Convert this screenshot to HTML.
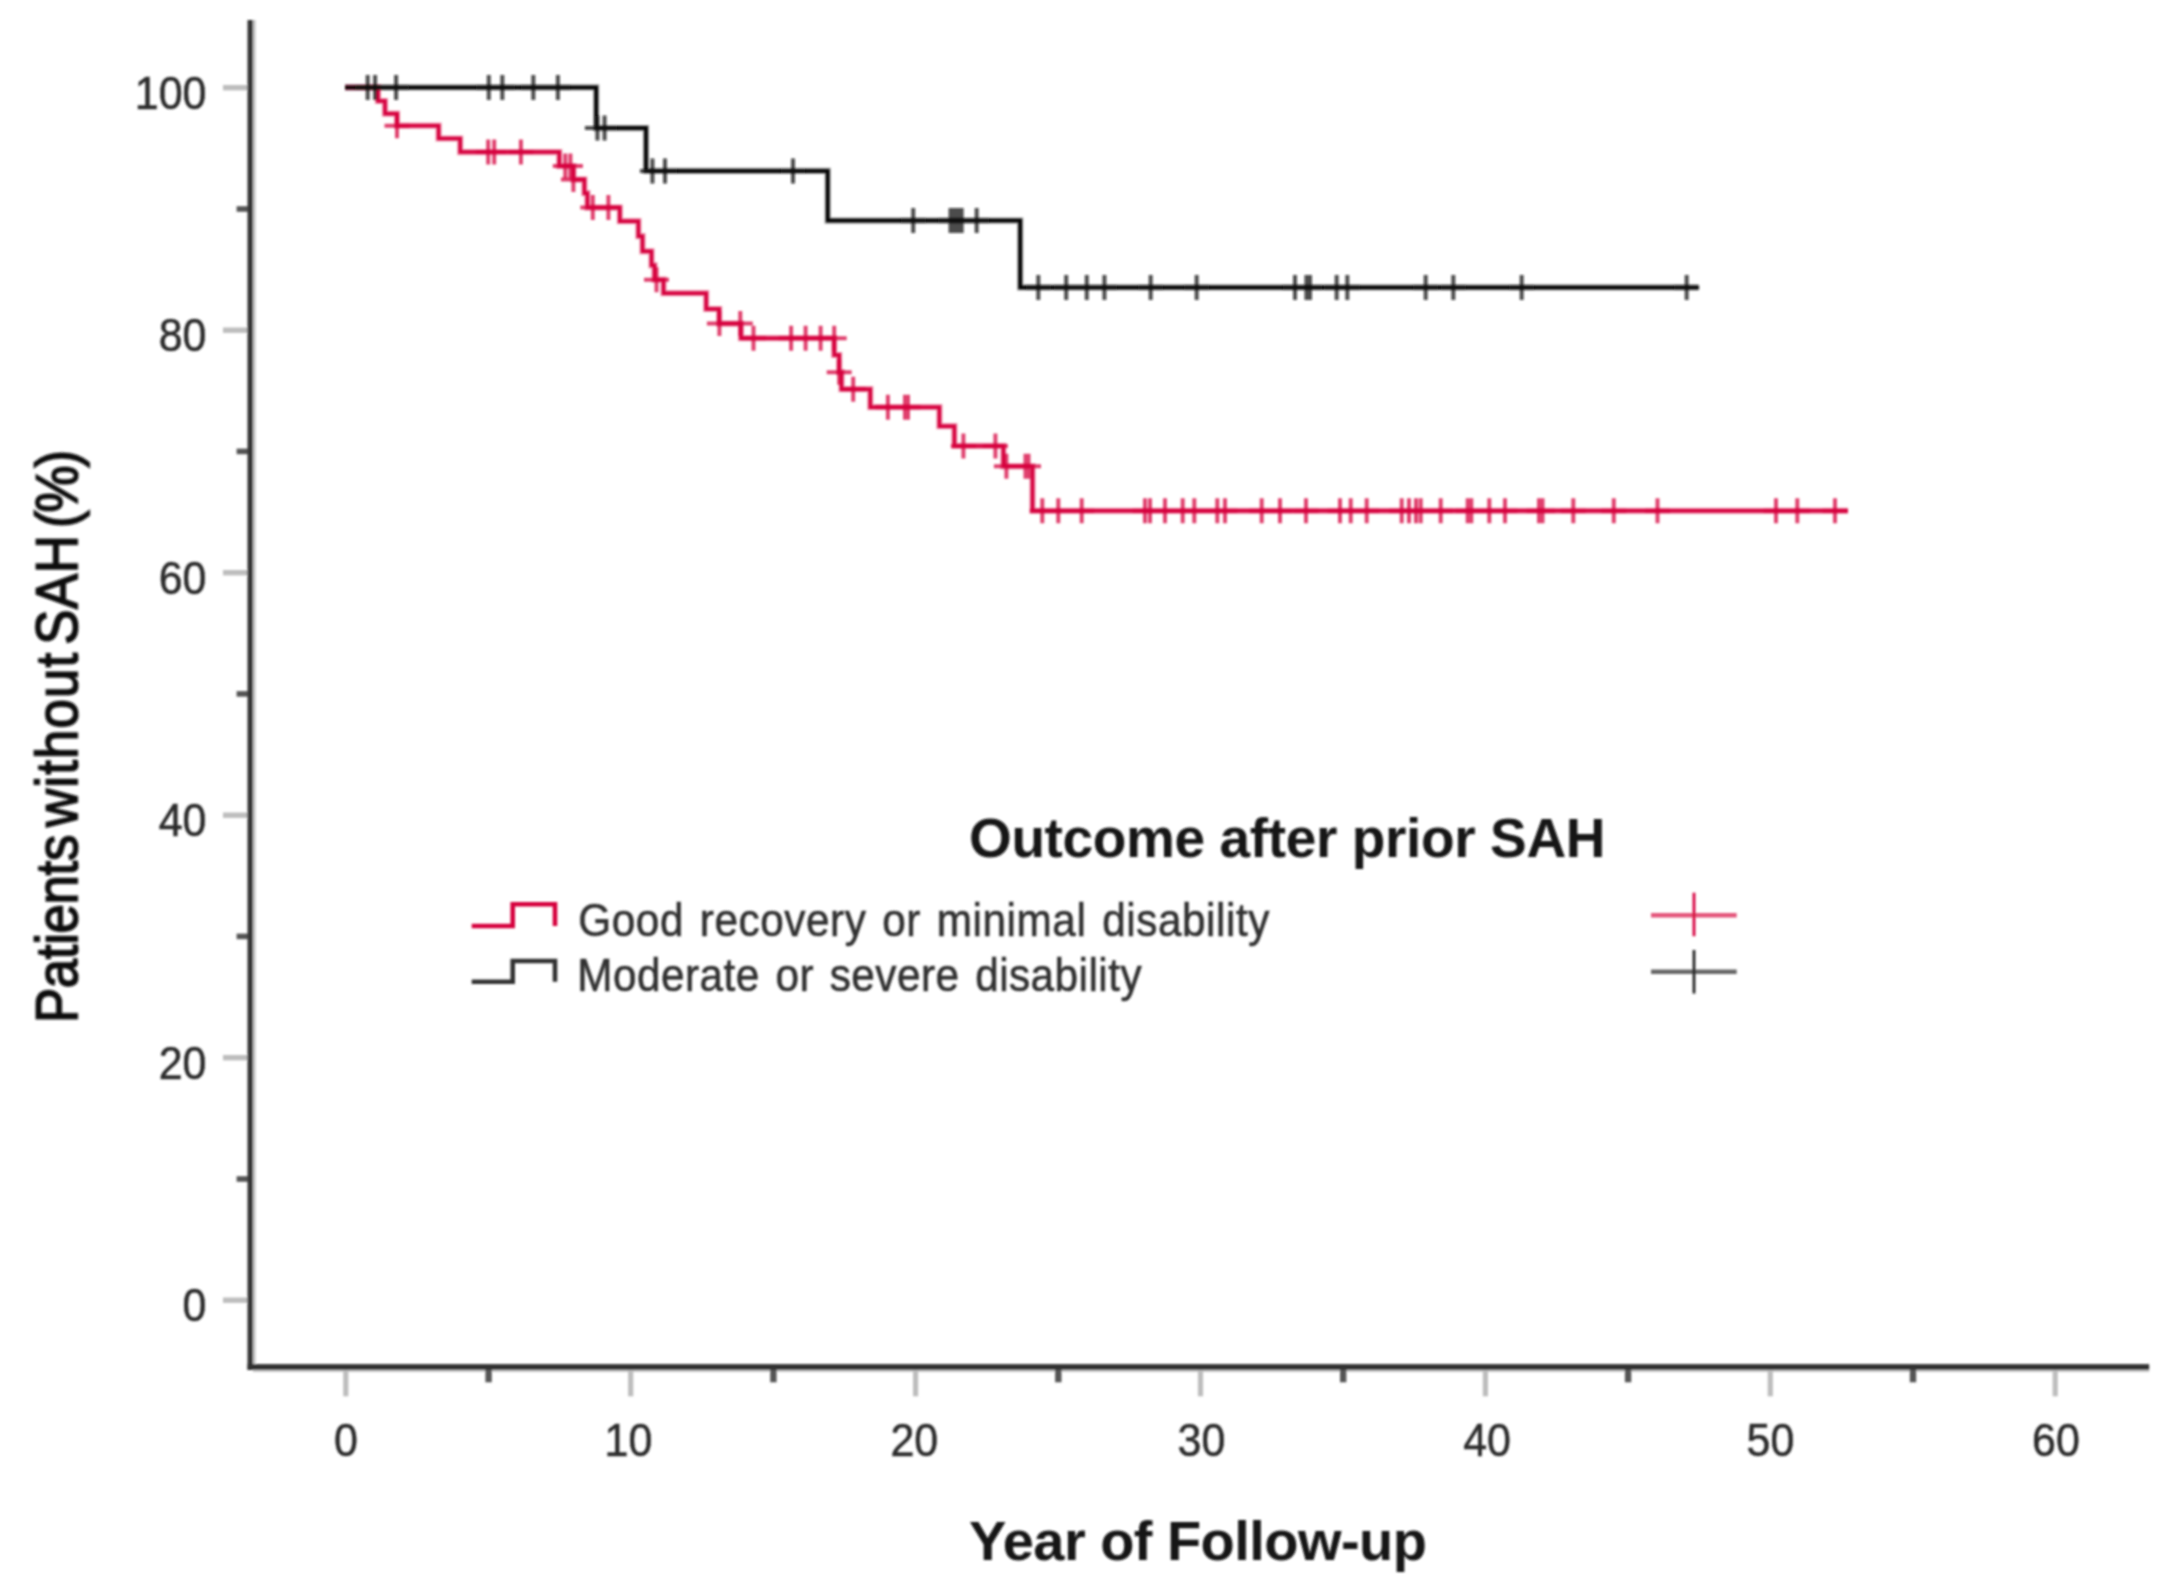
<!DOCTYPE html>
<html lang="en"><head><meta charset="utf-8"><title>Kaplan-Meier: Patients without SAH</title>
<style>
html,body{margin:0;padding:0;background:#fff;}
body{width:2175px;height:1588px;overflow:hidden;}
svg{display:block;font-family:"Liberation Sans",Arial,Helvetica,sans-serif;}
.lab{font-size:43px;fill:#2c2c2c;stroke:#2c2c2c;stroke-width:0.5px;}
.ttl{font-size:56px;font-weight:bold;fill:#141414;}
.leg{font-size:46px;fill:#303030;stroke:#303030;stroke-width:0.6px;}
</style></head><body>
<svg width="2175" height="1588" viewBox="0 0 2175 1588">
<rect x="0" y="0" width="2175" height="1588" fill="#ffffff"/>
<g id="chart" filter="url(#soft)">
<rect x="252.8" y="20" width="2.8" height="1346" fill="#c2c2c2"/>
<rect x="252.8" y="1369.5" width="1896.4" height="2.4" fill="#c2c2c2"/>
<g id="yticks">
<line x1="223" x2="248" y1="1300.2" y2="1300.2" stroke="#bdbdbd" stroke-width="5.4"/>
<line x1="223" x2="248" y1="1057.7" y2="1057.7" stroke="#bdbdbd" stroke-width="5.4"/>
<line x1="223" x2="248" y1="815.2" y2="815.2" stroke="#bdbdbd" stroke-width="5.4"/>
<line x1="223" x2="248" y1="572.7" y2="572.7" stroke="#bdbdbd" stroke-width="5.4"/>
<line x1="223" x2="248" y1="330.2" y2="330.2" stroke="#bdbdbd" stroke-width="5.4"/>
<line x1="223" x2="248" y1="87.7" y2="87.7" stroke="#bdbdbd" stroke-width="5.4"/>
<line x1="236.6" x2="248" y1="1179.0" y2="1179.0" stroke="#555" stroke-width="5.6"/>
<line x1="236.6" x2="248" y1="936.4" y2="936.4" stroke="#555" stroke-width="5.6"/>
<line x1="236.6" x2="248" y1="693.9" y2="693.9" stroke="#555" stroke-width="5.6"/>
<line x1="236.6" x2="248" y1="451.4" y2="451.4" stroke="#555" stroke-width="5.6"/>
<line x1="236.6" x2="248" y1="209.0" y2="209.0" stroke="#555" stroke-width="5.6"/>
</g>
<g id="xticks">
<line x1="345.8" x2="345.8" y1="1369" y2="1396.3" stroke="#bdbdbd" stroke-width="5.2"/>
<line x1="630.7" x2="630.7" y1="1369" y2="1396.3" stroke="#bdbdbd" stroke-width="5.2"/>
<line x1="915.6" x2="915.6" y1="1369" y2="1396.3" stroke="#bdbdbd" stroke-width="5.2"/>
<line x1="1200.5" x2="1200.5" y1="1369" y2="1396.3" stroke="#bdbdbd" stroke-width="5.2"/>
<line x1="1485.4" x2="1485.4" y1="1369" y2="1396.3" stroke="#bdbdbd" stroke-width="5.2"/>
<line x1="1770.3" x2="1770.3" y1="1369" y2="1396.3" stroke="#bdbdbd" stroke-width="5.2"/>
<line x1="2055.2" x2="2055.2" y1="1369" y2="1396.3" stroke="#bdbdbd" stroke-width="5.2"/>
<line x1="488.6" x2="488.6" y1="1369" y2="1382.3" stroke="#555" stroke-width="6.4"/>
<line x1="773.4" x2="773.4" y1="1369" y2="1382.3" stroke="#555" stroke-width="6.4"/>
<line x1="1058.3" x2="1058.3" y1="1369" y2="1382.3" stroke="#555" stroke-width="6.4"/>
<line x1="1343.2" x2="1343.2" y1="1369" y2="1382.3" stroke="#555" stroke-width="6.4"/>
<line x1="1628.1" x2="1628.1" y1="1369" y2="1382.3" stroke="#555" stroke-width="6.4"/>
<line x1="1913.0" x2="1913.0" y1="1369" y2="1382.3" stroke="#555" stroke-width="6.4"/>
</g>
<g id="axes">
<rect x="247.5" y="20" width="5.4" height="1350" fill="#353535"/>
<rect x="247.5" y="1364.1" width="1901.7" height="5.8" fill="#303030"/>
</g>
<g id="ylabels" class="lab" text-anchor="end">
<text transform="translate(206.5,1321.4) scale(1,1.085)">0</text>
<text transform="translate(206.5,1078.9) scale(1,1.085)">20</text>
<text transform="translate(206.5,836.4) scale(1,1.085)">40</text>
<text transform="translate(206.5,593.9) scale(1,1.085)">60</text>
<text transform="translate(206.5,351.4) scale(1,1.085)">80</text>
<text transform="translate(206.5,108.9) scale(1,1.085)">100</text>
</g>
<g id="xlabels" class="lab" text-anchor="middle">
<text transform="translate(346.0,1455.5) scale(1,1.085)">0</text>
<text transform="translate(628.4,1455.5) scale(1,1.085)">10</text>
<text transform="translate(914.3,1455.5) scale(1,1.085)">20</text>
<text transform="translate(1201.5,1455.5) scale(1,1.085)">30</text>
<text transform="translate(1487.1,1455.5) scale(1,1.085)">40</text>
<text transform="translate(1770.5,1455.5) scale(1,1.085)">50</text>
<text transform="translate(2055.9,1455.5) scale(1,1.085)">60</text>
</g>
<text class="ttl" x="969" y="1560.3" style="letter-spacing:-0.55px">Year of Follow-up</text>
<text id="ytitle" transform="translate(77.3,1023) rotate(-90) scale(0.88,1)" style="font-size:60px;fill:#111;stroke:#111;stroke-width:1.7px;letter-spacing:-0.4px;word-spacing:-7px">Patients <tspan style="letter-spacing:1.3px">without</tspan> <tspan dx="-1.3" style="letter-spacing:0.6px">SAH</tspan> <tspan dx="-1.9" style="letter-spacing:-2.3px">(%)</tspan></text>
<g id="red">
<path d="M345,87.4H378V101H385V113.7H397V125.7H438.6V138.5H460.2V152.1H559.3V166.1H573.4V179.6H584.4V193.2H587.4V207.6H619.8V221.2H638.4V236.2H642.5V251.3H651.5V265.3H654.5V279.7H663.5V293.2H706.2V309H719.2V323.6H741V338.2H834.2V355H839.2V372.2H841.5V389.2H870.3V407.2H939.4V426.2H954.4V445.9H1003.4V466.3H1032.5V510.8H1848" fill="none" stroke="#d6063e" stroke-width="6.2" stroke-opacity="0.42"/>
<path d="M345,87.4H378V101H385V113.7H397V125.7H438.6V138.5H460.2V152.1H559.3V166.1H573.4V179.6H584.4V193.2H587.4V207.6H619.8V221.2H638.4V236.2H642.5V251.3H651.5V265.3H654.5V279.7H663.5V293.2H706.2V309H719.2V323.6H741V338.2H834.2V355H839.2V372.2H841.5V389.2H870.3V407.2H939.4V426.2H954.4V445.9H1003.4V466.3H1032.5V510.8H1848" fill="none" stroke="#d6063e" stroke-width="3.5"/>
<path d="M397.0,113.2V138.2M488.2,139.6V164.6M494.2,139.6V164.6M520.9,139.6V164.6M565.3,153.6V178.6M570.4,153.6V178.6M573.4,167.1V192.1M592.8,195.1V220.1M608.4,195.1V220.1M656.5,267.2V292.2M719.4,311.1V336.1M740.3,311.1V336.1M753.5,325.7V350.7M791.1,325.7V350.7M805.6,325.7V350.7M820.6,325.7V350.7M834.2,325.7V350.7M839.2,359.7V384.7M853.2,376.7V401.7M887.9,394.7V419.7M905.0,394.7V419.7M908.0,394.7V419.7M963.4,433.4V458.4M995.4,433.4V458.4M1006.4,453.8V478.8M1025.5,453.8V478.8M1028.5,453.8V478.8M1042.3,498.3V523.3M1058.3,498.3V523.3M1081.7,498.3V523.3M1145.0,498.3V523.3M1150.0,498.3V523.3M1165.0,498.3V523.3M1182.7,498.3V523.3M1194.3,498.3V523.3M1217.3,498.3V523.3M1225.0,498.3V523.3M1261.7,498.3V523.3M1280.0,498.3V523.3M1306.0,498.3V523.3M1340.0,498.3V523.3M1350.7,498.3V523.3M1366.7,498.3V523.3M1401.7,498.3V523.3M1409.0,498.3V523.3M1416.0,498.3V523.3M1420.7,498.3V523.3M1440.7,498.3V523.3M1467.7,498.3V523.3M1471.3,498.3V523.3M1489.3,498.3V523.3M1505.0,498.3V523.3M1539.0,498.3V523.3M1542.5,498.3V523.3M1573.3,498.3V523.3M1613.8,498.3V523.3M1657.5,498.3V523.3M1776.0,498.3V523.3M1797.3,498.3V523.3M1835.0,498.3V523.3" fill="none" stroke="#d6063e" stroke-width="4.0" stroke-opacity="0.75"/>
<path d="M384.5,125.7H409.5M475.7,152.1H500.7M481.7,152.1H506.7M508.4,152.1H533.4M552.8,166.1H577.8M557.9,166.1H582.9M560.9,179.6H585.9M580.3,207.6H605.3M595.9,207.6H620.9M644.0,279.7H669.0M706.9,323.6H731.9M727.8,323.6H752.8M741.0,338.2H766.0M778.6,338.2H803.6M793.1,338.2H818.1M808.1,338.2H833.1M821.7,338.2H846.7M826.7,372.2H851.7M840.7,389.2H865.7M875.4,407.2H900.4M892.5,407.2H917.5M895.5,407.2H920.5M950.9,445.9H975.9M982.9,445.9H1007.9M993.9,466.3H1018.9M1013.0,466.3H1038.0M1016.0,466.3H1041.0M1029.8,510.8H1054.8M1045.8,510.8H1070.8M1069.2,510.8H1094.2M1132.5,510.8H1157.5M1137.5,510.8H1162.5M1152.5,510.8H1177.5M1170.2,510.8H1195.2M1181.8,510.8H1206.8M1204.8,510.8H1229.8M1212.5,510.8H1237.5M1249.2,510.8H1274.2M1267.5,510.8H1292.5M1293.5,510.8H1318.5M1327.5,510.8H1352.5M1338.2,510.8H1363.2M1354.2,510.8H1379.2M1389.2,510.8H1414.2M1396.5,510.8H1421.5M1403.5,510.8H1428.5M1408.2,510.8H1433.2M1428.2,510.8H1453.2M1455.2,510.8H1480.2M1458.8,510.8H1483.8M1476.8,510.8H1501.8M1492.5,510.8H1517.5M1526.5,510.8H1551.5M1530.0,510.8H1555.0M1560.8,510.8H1585.8M1601.3,510.8H1626.3M1645.0,510.8H1670.0M1763.5,510.8H1788.5M1784.8,510.8H1809.8M1822.5,510.8H1847.5" fill="none" stroke="#d6063e" stroke-width="4.0" stroke-opacity="0.75"/>
</g>
<g id="black">
<path d="M345,87.4H596.2V128.1H646V170.9H827.7V220.6H1020.2V287.4H1698.5" fill="none" stroke="#111" stroke-width="6.2" stroke-opacity="0.42"/>
<path d="M345,87.4H596.2V128.1H646V170.9H827.7V220.6H1020.2V287.4H1698.5" fill="none" stroke="#000" stroke-width="3.5"/>
<path d="M367.7,74.9V99.9M375.1,74.9V99.9M396.1,74.9V99.9M488.8,74.9V99.9M502.3,74.9V99.9M533.3,74.9V99.9M557.9,74.9V99.9M597.4,115.6V140.6M604.6,115.6V140.6M652.4,158.4V183.4M665.0,158.4V183.4M793.0,158.4V183.4M913.2,208.1V233.1M950.6,208.1V233.1M954.3,208.1V233.1M958.0,208.1V233.1M961.7,208.1V233.1M976.7,208.1V233.1M1038.3,274.9V299.9M1066.2,274.9V299.9M1086.8,274.9V299.9M1104.4,274.9V299.9M1150.7,274.9V299.9M1196.7,274.9V299.9M1295.0,274.9V299.9M1306.5,274.9V299.9M1310.0,274.9V299.9M1336.7,274.9V299.9M1347.3,274.9V299.9M1425.7,274.9V299.9M1453.3,274.9V299.9M1521.7,274.9V299.9M1686.7,274.9V299.9" fill="none" stroke="#111" stroke-width="4.0" stroke-opacity="0.75"/>
<path d="M355.2,87.4H380.2M362.6,87.4H387.6M383.6,87.4H408.6M476.3,87.4H501.3M489.8,87.4H514.8M520.8,87.4H545.8M545.4,87.4H570.4M584.9,128.1H609.9M592.1,128.1H617.1M639.9,170.9H664.9M652.5,170.9H677.5M780.5,170.9H805.5M900.7,220.6H925.7M938.1,220.6H963.1M941.8,220.6H966.8M945.5,220.6H970.5M949.2,220.6H974.2M964.2,220.6H989.2M1025.8,287.4H1050.8M1053.7,287.4H1078.7M1074.3,287.4H1099.3M1091.9,287.4H1116.9M1138.2,287.4H1163.2M1184.2,287.4H1209.2M1282.5,287.4H1307.5M1294.0,287.4H1319.0M1297.5,287.4H1322.5M1324.2,287.4H1349.2M1334.8,287.4H1359.8M1413.2,287.4H1438.2M1440.8,287.4H1465.8M1509.2,287.4H1534.2M1674.2,287.4H1699.2" fill="none" stroke="#111" stroke-width="4.0" stroke-opacity="0.75"/>
</g>
<g id="legend">
<text class="ttl" x="969" y="857" style="font-size:55px;letter-spacing:-0.38px">Outcome after prior SAH</text>
<path d="M471.7,926H512.7V904.3H555V926" fill="none" stroke="#d6063e" stroke-width="4.6"/>
<path d="M471.7,981.7H512.7V961H555V981.7" fill="none" stroke="#333" stroke-width="4.6"/>
<text class="leg" transform="translate(578.3,936) scale(0.92,1)" style="letter-spacing:0.6px;word-spacing:3.8px">Good recovery or minimal disability</text>
<text class="leg" transform="translate(577.3,990.7) scale(0.92,1)" style="letter-spacing:0.5px;word-spacing:3.8px">Moderate or severe disability</text>
<line x1="1651" x2="1736.7" y1="915.2" y2="915.2" stroke="#e4557a" stroke-width="4.6"/>
<line x1="1694" x2="1694" y1="892.7" y2="936.2" stroke="#d6063e" stroke-width="2.8"/>
<line x1="1651" x2="1736.7" y1="971.8" y2="971.8" stroke="#666" stroke-width="4.6"/>
<line x1="1694" x2="1694" y1="950" y2="993.5" stroke="#222" stroke-width="2.8"/>
</g>
</g>
<defs><filter id="soft" x="0" y="0" width="2175" height="1588" filterUnits="userSpaceOnUse"><feGaussianBlur stdDeviation="1.1"/></filter></defs>
</svg>
</body></html>
